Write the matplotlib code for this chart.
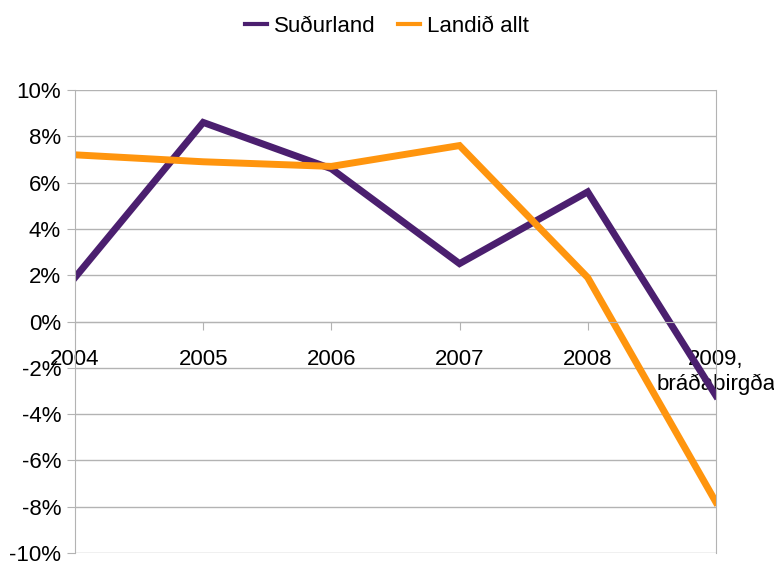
import matplotlib.pyplot as plt
from matplotlib.ticker import FuncFormatter

plt.rcParams['font.family'] = ['Liberation Sans Narrow', 'Liberation Sans', 'DejaVu Sans']

years = ["2004", "2005", "2006", "2007", "2008", "2009,\nbráðabirgða"]
sudurland = [1.9, 8.6, 6.6, 2.5, 5.6, -3.2]
landid_allt = [7.2, 6.9, 6.7, 7.6, 1.9, -7.8]

purple = '#4b1f6f'
orange = '#ff950e'
grey = '#b3b3b3'

fig = plt.figure(figsize=(7.74, 5.65), dpi=100)
ax = fig.add_axes([0.0969, 0.0212, 0.828, 0.8195])

x = range(len(years))
ax.plot(x, sudurland, color=purple, lw=5, label='Suðurland', solid_joinstyle='miter')
ax.plot(x, landid_allt, color=orange, lw=5, label='Landið allt', solid_joinstyle='miter')

ax.set_xlim(0, len(years) - 1)
ax.set_ylim(-10, 10)
ax.set_yticks(range(-10, 11, 2))
ax.yaxis.set_major_formatter(FuncFormatter(lambda v, p: f"{v:.0f}%"))
ax.grid(axis='y', color=grey, lw=1)
ax.set_axisbelow(True)

ax.set_xticks(list(x))
ax.set_xticklabels(years, multialignment='left')
ax.spines['bottom'].set_position(('data', 0))
ax.spines['top'].set_visible(False)
for s in ['left', 'right', 'bottom']:
    ax.spines[s].set_color(grey)
ax.tick_params(axis='x', length=6, color=grey, pad=14, labelsize=16)
ax.tick_params(axis='y', length=6, color=grey, pad=4, labelsize=16)

leg = ax.legend(loc='upper center', bbox_to_anchor=(0.5, 1.0), bbox_transform=fig.transFigure,
                ncol=2, frameon=False, fontsize=16, handlelength=1.0, handletextpad=0.3,
                columnspacing=1.0, borderaxespad=0.3)
for line in leg.get_lines():
    line.set_linewidth(3)

fig.savefig('out.png', dpi=100)
